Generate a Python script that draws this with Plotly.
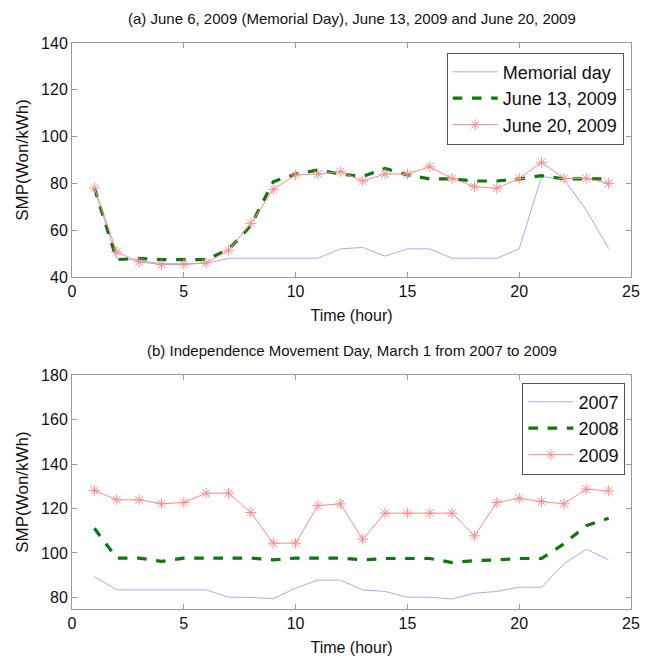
import plotly.graph_objects as go
from plotly.subplots import make_subplots

hours = list(range(1, 25))

# (a) June 6, 2009 (Memorial Day), June 13, 2009 and June 20, 2009
memorial_day = [78, 48, 47, 45.7, 45.7, 45.7, 48, 48, 48, 48, 48, 52, 52.6, 48.9,
                52, 52, 48, 48, 48, 52, 82.9, 81.7, 68.6, 52.1]
june13 = [78, 47.4, 47.9, 47.4, 47.4, 47.4, 51.7, 62, 80.7, 84, 85.7, 84, 82.9, 86.4,
          83.6, 81.9, 81.9, 81, 81, 81.9, 83.3, 81.9, 81.9, 81.9]
june20 = [78, 50.7, 46.4, 45.3, 45.3, 46, 51.4, 62.9, 77.4, 83.6, 84, 85, 81, 84,
          84, 87.1, 82.1, 78.6, 77.9, 82.1, 89, 82.1, 82.1, 80]

# (b) Independence Movement Day, March 1 from 2007 to 2009
y2007 = [89.4, 83.4, 83.4, 83.4, 83.4, 83.4, 80.1, 80, 79.4, 84.2, 87.8, 87.8, 83.4,
         82.7, 80.1, 80.1, 79.3, 81.9, 82.7, 84.6, 84.6, 95.1, 101.7, 96.9]
y2008 = [111.1, 97.7, 97.7, 96.2, 97.7, 97.7, 97.7, 97.7, 96.9, 97.7, 97.7, 97.7, 96.9,
         97.5, 97.5, 97.5, 95.7, 96.5, 96.9, 97.5, 97.5, 104.1, 112.3, 115.6]
y2009 = [128.1, 123.9, 123.9, 122.1, 122.7, 126.9, 126.9, 118.2, 104.4, 104.4, 121.3,
         122.1, 106.2, 117.9, 117.9, 117.9, 117.9, 107.7, 122.7, 124.6, 123.1, 122.1,
         128.7, 127.9]

top_names = ["Memorial day", "June 13, 2009", "June 20, 2009"]
bottom_names = ["2007", "2008", "2009"]
titles = ["(a) June 6, 2009 (Memorial Day), June 13, 2009 and June 20, 2009",
          "(b) Independence Movement Day, March 1 from 2007 to 2009"]

FONT = "Liberation Sans Narrow, Liberation Sans, Arial, sans-serif"
BLUE = "#a9a9ff"
GREEN = "#0a7a0a"
RED = "#ff8c8c"

fig = make_subplots(rows=2, cols=1, vertical_spacing=0.1734)


def add_three(row, ys, names, legend):
    fig.add_trace(go.Scatter(x=hours, y=ys[0], name=names[0], mode="lines",
                             line=dict(color=BLUE, width=1), legend=legend),
                  row=row, col=1)
    fig.add_trace(go.Scatter(x=hours, y=ys[1], name=names[1], mode="lines",
                             line=dict(color=GREEN, width=3.2, dash="dash"),
                             legend=legend),
                  row=row, col=1)
    fig.add_trace(go.Scatter(x=hours, y=ys[2], name=names[2], mode="lines+markers",
                             line=dict(color=RED, width=1),
                             marker=dict(symbol="asterisk-open", size=9,
                                         color=RED, line=dict(color=RED, width=1)),
                             legend=legend),
                  row=row, col=1)


add_three(1, [memorial_day, june13, june20], top_names, "legend")
add_three(2, [y2007, y2008, y2009], bottom_names, "legend2")

axis_common = dict(showgrid=False, zeroline=False, showline=True, linecolor="#9a9a9a",
                   linewidth=1, mirror="ticks", ticks="inside", ticklen=5,
                   tickcolor="#9a9a9a", tickfont=dict(family=FONT, size=16, color="#111"),
                   automargin=False)

fig.update_xaxes(range=[0, 25], tick0=0, dtick=5, **axis_common,
                 title=dict(text="Time (hour)", font=dict(family=FONT, size=16, color="#111"),
                            standoff=10))
fig.update_yaxes(title=dict(text="SMP(Won/kWh)", font=dict(family=FONT, size=17, color="#111"),
                            standoff=8), **axis_common)
fig.update_yaxes(range=[40, 140], tick0=40, dtick=20, row=1, col=1)
fig.update_yaxes(range=[74.8, 180], tick0=80, dtick=20, row=2, col=1)

fig.update_layout(
    width=651, height=662,
    margin=dict(l=72, r=20, t=43, b=53),
    paper_bgcolor="white", plot_bgcolor="white",
    font=dict(family=FONT, size=16, color="#111"),
    legend=dict(x=0.987, y=0.983, xanchor="right", yanchor="top",
                bordercolor="#555", borderwidth=1, bgcolor="white",
                font=dict(family=FONT, size=18), tracegroupgap=0,
                itemwidth=45),
    legend2=dict(x=0.99, y=0.4, xanchor="right", yanchor="top",
                 bordercolor="#555", borderwidth=1, bgcolor="white",
                 font=dict(family=FONT, size=18), tracegroupgap=0,
                 itemwidth=45),
    annotations=[
        dict(text=titles[0], x=0.5, y=1.0, xref="paper", yref="paper",
             xanchor="center", yanchor="bottom", yshift=14, showarrow=False,
             font=dict(family=FONT, size=15, color="#111")),
        dict(text=titles[1], x=0.5, y=0.4134, xref="paper", yref="paper",
             xanchor="center", yanchor="bottom", yshift=14, showarrow=False,
             font=dict(family=FONT, size=15, color="#111")),
    ],
)

fig.write_html("out.html")
